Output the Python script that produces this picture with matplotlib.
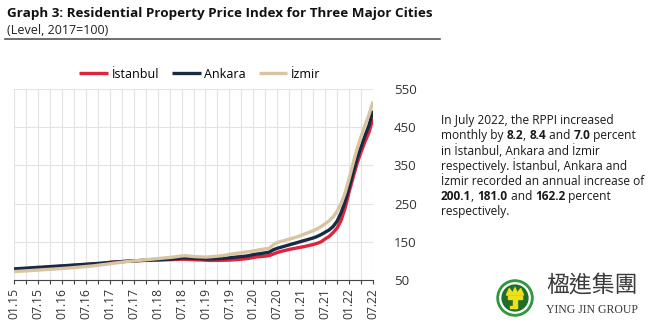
import matplotlib
matplotlib.use("Agg")
from matplotlib import pyplot as plt
from matplotlib.patches import Circle, Polygon
import numpy as np

plt.rcParams['font.family'] = ['Open Sans', 'DejaVu Sans']

# monthly index values, 01.2015 .. 07.2022
istanbul = [77, 77.8, 78.5, 79.3, 80, 80.8, 81.5, 82.3, 83, 83.8, 84.5, 85.3,
            86, 86.8, 87.5, 88.3, 89, 89.8, 90.5, 91.3, 92, 92.8, 93.5, 94.5,
            96, 96.8, 97.5, 98.2, 98.8, 99.4, 100, 100.5, 101, 101.4, 101.7, 102,
            102.2, 102.5, 102.8, 103.2, 103.6, 104, 104.3, 104.2, 103.8, 103.2, 102.8, 102.5,
            101.8, 101.3, 101.2, 101.4, 101.6, 101.8, 102.2, 102.8, 103.6, 104.5, 105.5, 107,
            109, 110.5, 111.5, 112.5, 114, 118, 122, 125, 127.5, 130, 132, 134,
            136, 138, 140.5, 143, 146, 150, 157.6, 164, 174, 186, 206, 238,
            280, 318, 355, 385, 412, 437, 473]
ankara = [79, 79.7, 80.4, 81.1, 81.7, 82.4, 83.1, 83.7, 84.4, 85.1, 85.7, 86.4,
          87, 87.7, 88.4, 89.1, 89.8, 90.5, 91.2, 91.9, 92.6, 93.3, 94.0, 95,
          96, 96.8, 97.5, 98.2, 98.8, 99.4, 100, 100.6, 101.2, 101.7, 102.2, 102.6,
          103, 103.5, 104, 104.6, 105.3, 106.2, 107.5, 108, 107.5, 106.8, 106.2, 106,
          105.5, 105.2, 105.4, 105.8, 106.3, 107, 108, 109.2, 110.3, 111.3, 112.3, 114,
          116.5, 118, 119.5, 121, 123, 129, 133, 136, 139, 142, 145, 148,
          151, 154, 157, 160, 164, 169, 175, 181, 190, 204, 226, 255,
          292, 330, 368, 398, 428, 455, 493]
izmir = [72, 72.6, 73.3, 74, 74.6, 75.3, 76, 76.6, 77.3, 78, 78.6, 79.3,
         80, 80.8, 81.6, 82.5, 83.4, 84.3, 85.2, 86.2, 87.2, 88.5, 89.8, 91,
         92.5, 94, 95.3, 96.5, 97.8, 99, 100, 101, 102, 103, 104, 105,
         106, 107, 108, 109, 110, 111.5, 113, 113.5, 112.5, 111.5, 110.8, 110.5,
         110, 110.5, 111.5, 112.5, 113.5, 115, 117, 118.5, 120, 121.5, 123, 124.5,
         126, 128, 130, 131.5, 133, 142, 148, 151, 154, 157, 160, 163,
         167, 171, 175, 179, 184, 190, 197, 205, 215, 230, 250, 278,
         315, 355, 393, 425, 455, 483, 517]

tick_labels = ["01.15", "07.15", "01.16", "07.16", "01.17", "07.17", "01.18", "07.18",
               "01.19", "07.19", "01.20", "07.20", "01.21", "07.21", "01.22", "07.22"]
yticks = [50, 150, 250, 350, 450, 550]

W, H = 657, 329
fig = plt.figure(figsize=(W / 100, H / 100), dpi=100)

ax = fig.add_axes([14 / W, 1 - 280 / H, (373 - 14) / W, (280 - 89) / H])
x = np.arange(len(istanbul))
ax.plot(x, istanbul, color='#e0243c', lw=2.4, label='İstanbul', solid_capstyle='butt')
ax.plot(x, ankara, color='#1b2a44', lw=2.4, label='Ankara', solid_capstyle='butt')
ax.plot(x, izmir, color='#d9c4a2', lw=2.4, label='İzmir', solid_capstyle='butt')

ax.set_xlim(0, 90)
ax.set_ylim(50, 550)
ax.set_xticks(np.arange(0, 91, 3), minor=True)
ax.set_xticks(np.arange(0, 91, 6))
ax.set_xticklabels(tick_labels, rotation=90, fontsize=8.7, color='#333333')
ax.tick_params(axis='x', which='both', direction='out', length=3, width=0.8,
               color='#444444', pad=3)
ax.set_yticks(yticks)
ax.yaxis.tick_right()
ax.tick_params(axis='y', length=0, pad=15, labelsize=9.5, labelcolor='#333333')
ax.grid(axis='x', which='both', color='#e3e3e3', lw=0.8)
ax.grid(axis='y', color='#e3e3e3', lw=0.8)
ax.set_axisbelow(True)
for s in ['top', 'right', 'left']:
    ax.spines[s].set_visible(False)
ax.spines['bottom'].set_color('#444444')

fig.legend(loc='center', bbox_to_anchor=(200 / W, 1 - 74 / H), ncol=3, frameon=False,
           fontsize=9, handlelength=2.3, handletextpad=0.3, columnspacing=1.0)

# header
fig.text(7 / W, 1 - 13 / H, "Graph 3: Residential Property Price Index for Three Major Cities",
         fontsize=9.7, fontweight='bold', va='center', ha='left', color='#111111')
fig.text(7 / W, 1 - 30 / H, "(Level, 2017=100)", fontsize=9, va='center', ha='left',
         color='#222222')
fig.add_artist(plt.Line2D([5 / W, 440 / W], [1 - 39 / H, 1 - 39 / H], color='#555555', lw=1.2))

# side text with bold numbers
lines = [
    [("In July 2022, the RPPI increased", False)],
    [("monthly by ", False), ("8.2", True), (", ", False), ("8.4", True), (" and ", False),
     ("7.0", True), (" percent", False)],
    [("in İstanbul, Ankara and İzmir", False)],
    [("respectively. İstanbul, Ankara and", False)],
    [("İzmir recorded an annual increase of", False)],
    [("200.1", True), (", ", False), ("181.0", True), (" and ", False), ("162.2", True),
     (" percent", False)],
    [("respectively.", False)],
]
fig.canvas.draw()
r = fig.canvas.get_renderer()
y0 = 120
for i, segs in enumerate(lines):
    xp = 441
    for txt, bold in segs:
        t = fig.text(xp / W, 1 - (y0 + i * 15.3) / H, txt, fontsize=8.6,
                     fontweight='bold' if bold else 'normal', va='center', ha='left',
                     color='#1a1a1a')
        bb = t.get_window_extent(renderer=r)
        xp += bb.width

# logo
lax = fig.add_axes([(515 - 19) / W, 1 - (298 + 19) / H, 38 / W, 38 / H])
lax.set_xlim(-1, 1)
lax.set_ylim(-1, 1)
lax.set_aspect('equal')
lax.axis('off')
lax.add_patch(Circle((0, 0), 0.95, color='#2e9a3c'))
lax.add_patch(Circle((0, 0), 0.8, color='white'))
lax.add_patch(Circle((0, 0), 0.68, color='#1f6e2c'))
lax.add_patch(Polygon([[-0.45, 0.15], [-0.3, 0.5], [-0.12, 0.25], [0, 0.55], [0.12, 0.25],
                       [0.3, 0.5], [0.45, 0.15]], color='#f0e01c'))
lax.add_patch(Polygon([[-0.35, 0.1], [0.35, 0.1], [0.35, -0.05], [0.08, -0.05], [0.08, -0.55],
                       [-0.25, -0.55], [-0.25, -0.4], [-0.08, -0.4], [-0.08, -0.05],
                       [-0.35, -0.05]], color='#f0e01c'))
fig.text(592 / W, 1 - 286 / H, "楹進集團", fontsize=16.5, ha='center', va='center',
         family=['Noto Sans CJK TC', 'DejaVu Sans'], color='#3a3a3a')
fig.text(592 / W, 1 - 310 / H, "YING JIN GROUP", fontsize=8.5, ha='center', va='center',
         family=['Liberation Serif', 'DejaVu Serif'], color='#3a3a3a')

fig.savefig("out.png", dpi=100)
